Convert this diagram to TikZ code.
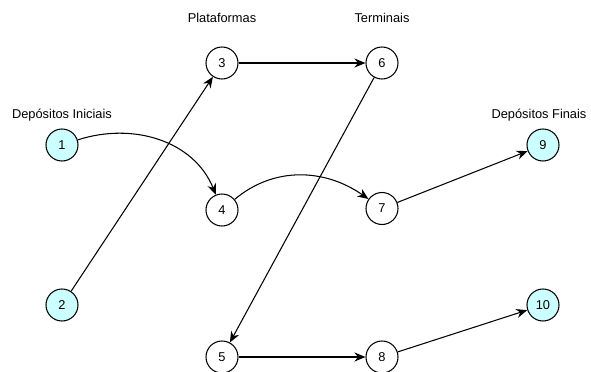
\documentclass[tikz,border=0pt]{standalone}
\usepackage{fontspec}
\setmainfont{Liberation Sans}
\usetikzlibrary{arrows.meta, positioning}

\definecolor{depot}{HTML}{CCFFFF}

\begin{document}
\begin{tikzpicture}[every node/.style={font=\fontsize{7.3}{8}\selectfont},
    vert/.style={circle, draw, line width=0.6pt, minimum size=6.4mm, inner sep=0pt},
    depo/.style={vert, fill=depot}]
    \useasboundingbox (0,0) rectangle (11.82,-7.44);
    % column titles
    \node (tini) at (1.24,-2.3) {Depósitos Iniciais};
    \node (tpla) at (4.44,-0.36) {Plataformas};
    \node (tter) at (7.64,-0.36) {Terminais};
    \node (tfin) at (10.78,-2.3) {Depósitos Finais};
    % nodes
    \node[depo] (n1) at (1.24,-2.9) {1};
    \node[depo] (n2) at (1.24,-6.1) {2};
    \node[vert] (n3) at (4.44,-1.26) {3};
    \node[vert] (n4) at (4.44,-4.2) {4};
    \node[vert] (n5) at (4.44,-7.14) {5};
    \node[vert] (n6) at (7.64,-1.26) {6};
    \node[vert] (n7) at (7.64,-4.17) {7};
    \node[vert] (n8) at (7.64,-7.14) {8};
    \node[depo] (n9) at (10.86,-2.9) {9};
    \node[depo] (n10) at (10.86,-6.1) {10};
    % arcs
    \draw[line width=0.6pt, -{Stealth[length=2.2mm, width=1.8mm]}] (n1) to[out=18, in=112] (n4);
    \draw[line width=0.6pt, -{Stealth[length=2.2mm, width=1.8mm]}] (n2) -- (n3);
    \draw[line width=0.6pt, -{Stealth[length=2.2mm, width=1.8mm]}] (n3) -- (n6);
    \draw[line width=0.6pt, -{Stealth[length=2.2mm, width=1.8mm]}] (n4) to[out=40, in=145] (n7);
    \draw[line width=0.6pt, -{Stealth[length=2.2mm, width=1.8mm]}] (n6) -- (n5);
    \draw[line width=0.6pt, -{Stealth[length=2.2mm, width=1.8mm]}] (n5) -- (n8);
    \draw[line width=0.6pt, -{Stealth[length=2.2mm, width=1.8mm]}] (n7) -- (n9);
    \draw[line width=0.6pt, -{Stealth[length=2.2mm, width=1.8mm]}] (n8) -- (n10);
\end{tikzpicture}
\end{document}
